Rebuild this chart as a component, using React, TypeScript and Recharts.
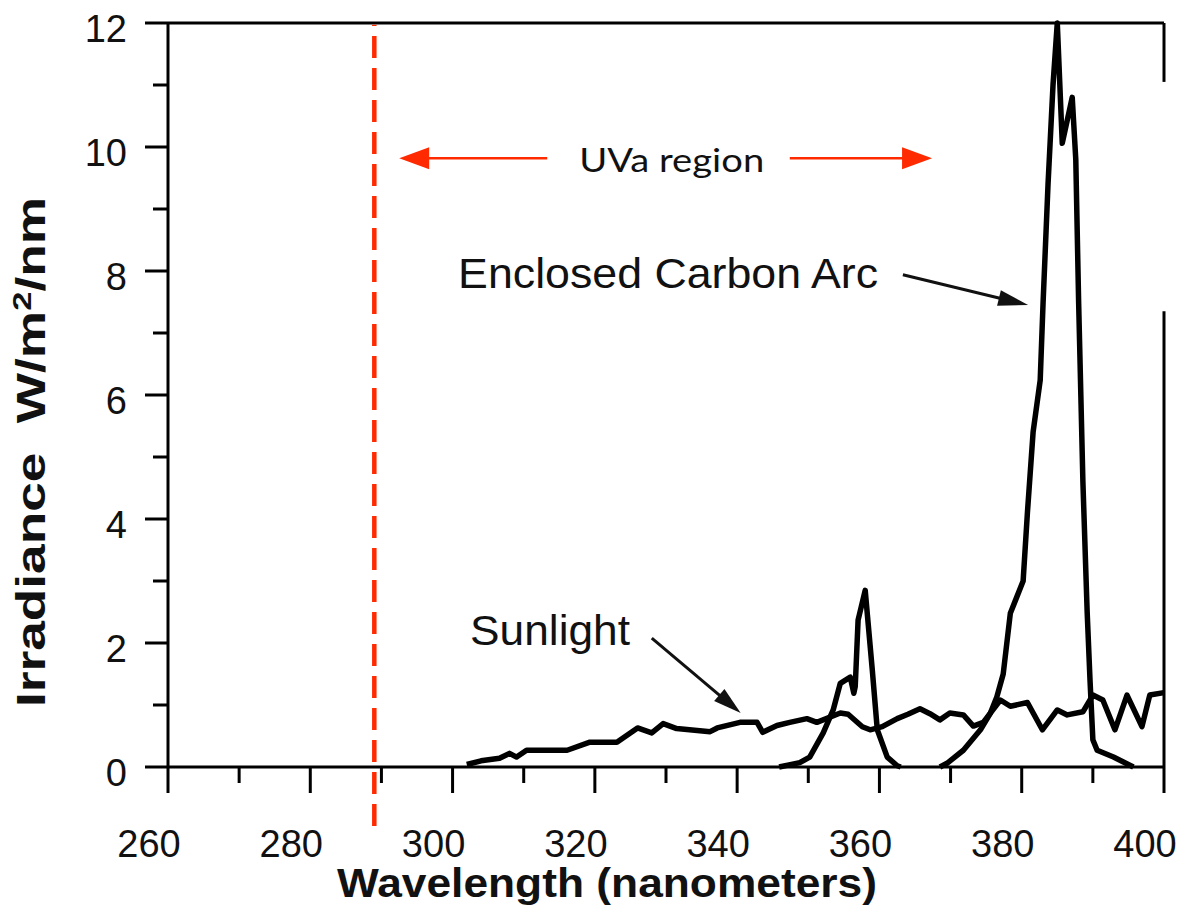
import React from "react";
import {
  LineChart,
  Line,
  XAxis,
  YAxis,
  ReferenceLine,
  ReferenceDot,
} from "recharts";

// wavelength (nm) / irradiance (W/m2/nm)
const sunlightNm = [
  302, 304, 306.6, 308, 309, 310.4, 316.1, 319.3, 323.1, 326, 328, 329.6, 331.5,
  336.2, 337.2, 340.4, 342.8, 343.6, 345.6, 347.4, 349.8, 351.2, 354.5, 355.6,
  357.6, 358.7, 360.4, 362.5, 364, 365.7, 367.1, 368.5, 369.9, 371.8, 373.2,
  374.6, 377, 378.4, 380.8, 382.9, 385, 386.4, 388.6, 390, 391.4, 393.1, 394.8,
  396.9, 398, 400,
];
const sunlightIrr = [
  0.04, 0.1, 0.14, 0.22, 0.16, 0.27, 0.27, 0.4, 0.4, 0.63, 0.55, 0.7, 0.62,
  0.57, 0.63, 0.72, 0.72, 0.56, 0.67, 0.72, 0.78, 0.72, 0.87, 0.85, 0.65, 0.6,
  0.65, 0.78, 0.85, 0.94, 0.86, 0.76, 0.87, 0.84, 0.66, 0.72, 1.08, 0.98, 1.04,
  0.6, 0.92, 0.84, 0.89, 1.16, 1.08, 0.6, 1.16, 0.65, 1.16, 1.2,
];

// null = gap between the two emission bands
const arcNm = [
  345.9, 348.8, 350.2, 352.1, 353.5, 354.5, 355.9, 356.4, 356.6, 357, 358,
  359, 359.7, 361.1, 362.5, 363, 366, 368.5, 369.5, 371.8, 374.2, 375.6, 376.5,
  377.4, 378.4, 379.3, 380.2, 380.8, 381.6, 382.6, 383, 383.7, 384.4, 385,
  385.7, 387.1, 387.6, 388, 388.6, 389.2, 389.6, 390, 390.6, 392.9, 395.7,
];
const arcIrr = [
  0, 0.07, 0.16, 0.55, 0.92, 1.35, 1.45, 1.19, 1.3, 2.37, 2.85, 1.56, 0.6,
  0.16, 0.02, 0, null, 0, 0.06, 0.27, 0.6, 0.87, 1.13, 1.5, 2.48, 2.74, 3.0,
  4.1, 5.4, 6.24, 7.48, 9.4, 11.0, 12.0, 10.06, 10.8, 9.8, 7.5, 4.6, 2.5, 1.4,
  0.44, 0.27, 0.16, 0,
];

const xTicks = [260, 270, 280, 290, 300, 310, 320, 330, 340, 350, 360, 370, 380, 390, 400];
const yTicks = [0, 1, 2, 3, 4, 5, 6, 7, 8, 9, 10, 11, 12];

const uvaStart = 289;

const sunlightData = sunlightNm.map((nm, i) => ({ nm, irr: sunlightIrr[i] }));
const arcData = arcNm.map((nm, i) => ({ nm, irr: arcIrr[i] }));

const FONT = '"Liberation Sans", Arial, Helvetica, sans-serif';
const RED = "#ff2a00";

const XTick = (props: any) => {
  const { x, y, payload } = props;
  const major = payload.value % 20 === 0;
  return (
    <g>
      <line x1={x} y1={y} x2={x} y2={y + (major ? 26 : 16)} stroke="#000" strokeWidth={3} />
      {major && (
        <text x={x - 19} y={y + 90} textAnchor="middle" fontSize={38} fontFamily={FONT} fill="#111">
          {payload.value}
        </text>
      )}
    </g>
  );
};

const YTick = (props: any) => {
  const { x, y, payload } = props;
  const major = payload.value % 2 === 0;
  return (
    <g>
      <line x1={x} y1={y} x2={x - (major ? 23 : 15)} y2={y} stroke="#000" strokeWidth={3} />
      {major && (
        <text x={x - 41} y={y + 19} textAnchor="end" fontSize={38} fontFamily={FONT} fill="#111">
          {payload.value}
        </text>
      )}
    </g>
  );
};

// line with a filled triangular head at (x2, y2)
const arrow = (color: string, width: number, len: number, half: number) => (p: any) => {
  const { x1, y1, x2, y2 } = p;
  const dx = x2 - x1;
  const dy = y2 - y1;
  const d = Math.sqrt(dx * dx + dy * dy) || 1;
  const ux = dx / d;
  const uy = dy / d;
  const bx = x2 - ux * len;
  const by = y2 - uy * len;
  const pts = `${x2},${y2} ${bx - uy * half},${by + ux * half} ${bx + uy * half},${by - ux * half}`;
  return (
    <g>
      <line x1={x1} y1={y1} x2={bx + ux * 2} y2={by + uy * 2} stroke={color} strokeWidth={width} />
      <polygon points={pts} fill={color} />
    </g>
  );
};

const note = (text: string, size: number, length: number, family: string, color = "#111") => (p: any) => (
  <text
    x={p.cx}
    y={p.cy + size * 0.36}
    textAnchor="middle"
    fontSize={size}
    fontFamily={family}
    fill={color}
    textLength={length}
    lengthAdjust="spacingAndGlyphs"
  >
    {text}
  </text>
);

const XTitle = () => (
  <text
    x={607}
    y={897}
    textAnchor="middle"
    fontSize={40}
    fontWeight="bold"
    fontFamily={FONT}
    fill="#111"
    textLength={540}
    lengthAdjust="spacingAndGlyphs"
  >
    Wavelength (nanometers)
  </text>
);

const YTitle = () => (
  <text
    x={45}
    y={452}
    transform="rotate(-90, 45, 452)"
    textAnchor="middle"
    fontSize={40}
    fontWeight="bold"
    fontFamily={FONT}
    fill="#111"
    textLength={510}
    lengthAdjust="spacingAndGlyphs"
  >
    {"Irradiance\u00a0\u00a0W/m"}
    <tspan dy={-14} fontSize={26}>2</tspan>
    <tspan dy={14}>/nm</tspan>
  </text>
);

export default function App() {
  return (
    <div style={{ position: "absolute", left: 0, top: 0, background: "#fff" }}>
      <LineChart width={1180} height={916} margin={{ top: 23, right: 16, bottom: 0, left: 0 }}>
        <XAxis
          type="number"
          dataKey="nm"
          domain={[260, 400]}
          ticks={xTicks}
          interval={0}
          height={149}
          tickSize={0}
          tickMargin={0}
          tickLine={false}
          axisLine={{ stroke: "#000", strokeWidth: 3 }}
          tick={<XTick />}
          label={{ content: () => <XTitle /> }}
        />
        <YAxis
          type="number"
          domain={[0, 12]}
          ticks={yTicks}
          interval={0}
          width={168}
          tickSize={0}
          tickMargin={0}
          tickLine={false}
          axisLine={{ stroke: "#000", strokeWidth: 3 }}
          tick={<YTick />}
          label={{ content: () => <YTitle /> }}
        />

        {/* frame: top edge, broken right edge */}
        <ReferenceLine y={12} stroke="#000" strokeWidth={3} />
        <ReferenceLine segment={[{ x: 400, y: 0 }, { x: 400, y: 7.35 }]} stroke="#000" strokeWidth={3} />
        <ReferenceLine segment={[{ x: 400, y: 11.05 }, { x: 400, y: 12 }]} stroke="#000" strokeWidth={3} />

        {/* UVa boundary */}
        <ReferenceLine
          segment={[{ x: uvaStart, y: -0.95 }, { x: uvaStart, y: 11.97 }]}
          ifOverflow="visible"
          stroke={RED}
          strokeWidth={4.5}
          strokeDasharray="22 10"
        />

        <Line
          data={sunlightData}
          dataKey="irr"
          type="linear"
          stroke="#000"
          strokeWidth={5.5}
          strokeLinejoin="round"
          dot={false}
          isAnimationActive={false}
        />
        <Line
          data={arcData}
          dataKey="irr"
          type="linear"
          stroke="#000"
          strokeWidth={5.5}
          strokeLinejoin="round"
          dot={false}
          connectNulls={false}
          isAnimationActive={false}
        />

        {/* annotations */}
        <ReferenceLine
          segment={[{ x: 313.3, y: 9.82 }, { x: 292.5, y: 9.82 }]}
          shape={arrow(RED, 2.5, 30, 11)}
        />
        <ReferenceLine
          segment={[{ x: 347.4, y: 9.82 }, { x: 367.4, y: 9.82 }]}
          shape={arrow(RED, 2.5, 30, 11)}
        />
        <ReferenceLine
          segment={[{ x: 363.3, y: 7.94 }, { x: 380.9, y: 7.45 }]}
          shape={arrow("#111", 3, 30, 8)}
        />
        <ReferenceLine
          segment={[{ x: 328.0, y: 2.08 }, { x: 340.5, y: 0.87 }]}
          shape={arrow("#111", 3, 28, 8)}
        />
        <ReferenceDot x={330.8} y={9.79} r={0} shape={note("UVa region", 32, 185, "Lato, 'Open Sans', sans-serif")} />
        <ReferenceDot x={330.3} y={7.97} r={0} shape={note("Enclosed Carbon Arc", 42, 420, FONT)} />
        <ReferenceDot x={313.7} y={2.21} r={0} shape={note("Sunlight", 42, 160, FONT)} />
      </LineChart>
    </div>
  );
}
